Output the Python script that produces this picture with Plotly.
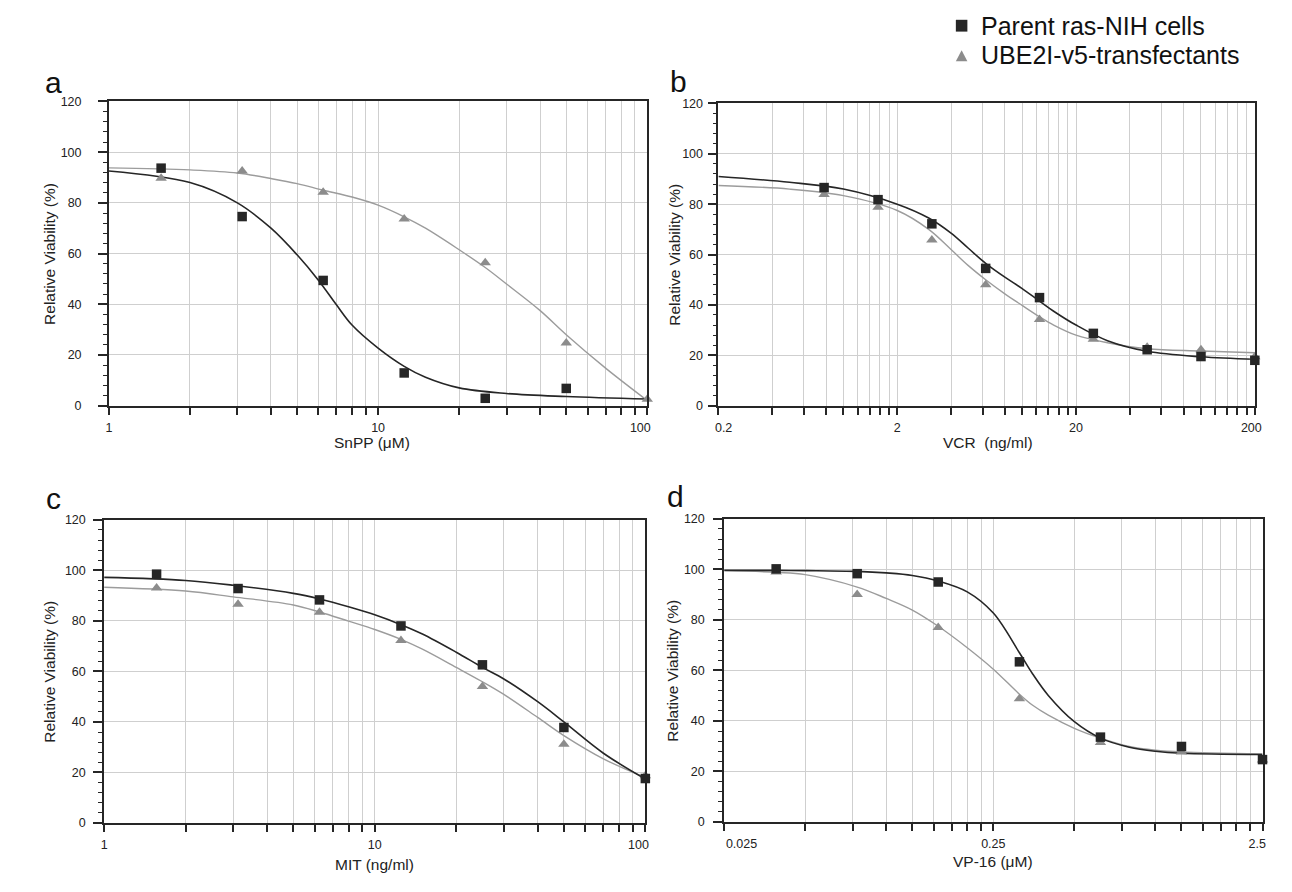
import math
import plotly.graph_objects as go

W, H = 1292, 892

# ---------------- data ----------------
# Panel a: SnPP (uM)
a_x = [1.5625, 3.125, 6.25, 12.5, 25, 50]
a_parent = [93.7, 74.6, 49.4, 12.9, 2.9, 6.8]
a_ube_x = [1.5625, 3.125, 6.25, 12.5, 25, 50, 100]
a_ube = [89.7, 92.6, 84.2, 73.6, 56.4, 24.7, 2.5]
a_fit_x_parent = [1, 2, 3, 4, 5, 6, 7, 8, 10, 12.5, 15, 20, 30, 50, 100]
a_fit_parent = [92.6, 88.0, 80.0, 70.0, 59.5, 49.5, 39.8, 31.8, 22.7, 15.5, 11.2, 7.0, 4.8, 3.6, 2.6]
a_fit_x_ube = [1, 2, 3, 4, 5, 6.25, 8, 10, 12.5, 15, 20, 25, 30, 40, 50, 70, 100]
a_fit_ube = [93.8, 93.0, 91.8, 89.6, 87.6, 85.0, 82.3, 79.1, 74.5, 70.0, 61.5, 54.5, 48.0, 37.5, 28.0, 14.8, 2.0]

# Panel b: VCR (ng/ml)
b_x = [0.78, 1.5625, 3.125, 6.25, 12.5, 25, 50, 100, 200]
b_parent = [86.6, 81.8, 72.2, 54.5, 42.9, 28.7, 22.2, 19.5, 18.0]
b_ube = [83.8, 78.8, 65.8, 48.0, 34.2, 26.4, 23.2, 22.2, 19.4]
b_fit_x = [0.2, 0.5, 1, 2, 3, 4, 5, 6.25, 8, 10, 12.5, 15, 20, 30, 50, 100, 200]
b_fit_parent = [91.0, 88.7, 86.0, 80.0, 74.5, 68.5, 62.5, 56.5, 51.0, 46.5, 41.5, 37.5, 32.0, 25.8, 21.6, 19.4, 18.4]
b_fit_ube = [87.4, 86.0, 83.4, 77.5, 70.0, 62.0, 55.6, 50.0, 44.4, 39.8, 35.3, 32.0, 28.0, 25.0, 22.6, 21.7, 21.0]

# Panel c: MIT (ng/ml)
c_x = [1.5625, 3.125, 6.25, 12.5, 25, 50, 100]
c_parent = [98.5, 92.8, 88.3, 78.0, 62.6, 37.8, 17.6]
c_ube = [93.0, 86.6, 83.4, 72.2, 54.0, 31.2, 18.7]
c_fit_x = [1, 2, 3, 5, 6.25, 8, 10, 12.5, 15, 20, 25, 30, 40, 50, 70, 100]
c_fit_parent = [97.2, 96.0, 94.1, 90.9, 88.7, 85.6, 82.4, 78.5, 74.8, 67.6, 61.6, 57.0, 48.0, 40.0, 27.6, 17.4]
c_fit_ube = [93.3, 91.8, 89.5, 86.3, 83.5, 79.9, 76.6, 72.7, 68.8, 61.6, 55.9, 50.9, 41.8, 34.6, 25.4, 18.0]

# Panel d: VP-16 (uM)
d_x = [0.039, 0.078, 0.156, 0.3125, 0.625, 1.25, 2.5]
d_parent = [100.2, 98.3, 95.0, 63.4, 33.6, 29.9, 24.7]
d_ube = [99.0, 90.1, 77.0, 48.8, 31.5, 27.7, 24.5]
d_fit_x = [0.025, 0.039, 0.05, 0.078, 0.1, 0.125, 0.156, 0.2, 0.25, 0.3125, 0.35, 0.4, 0.5, 0.625, 0.8, 1.0, 1.25, 2.5]
d_fit_parent = [99.6, 99.6, 99.5, 99.2, 98.6, 97.6, 95.4, 91.1, 82.7, 67.0, 58.6, 50.1, 39.7, 33.2, 29.6, 28.0, 27.2, 26.7]
d_fit_ube = [99.6, 98.8, 97.9, 93.0, 88.5, 83.9, 77.5, 69.0, 60.5, 50.6, 46.2, 42.3, 37.1, 33.2, 29.9, 28.4, 27.7, 26.9]

# tick labels (major), with the edge labels nudged inside the axis span like the reference
ac_major = [1, 10, 100]
ac_labels = ["1", "10", "100\u00a0\u00a0\u00a0\u00a0"]
b_major = [0.2, 2, 20, 200]
b_labels = ["\u00a0\u00a0\u00a00.2", "2", "20", "200\u00a0\u00a0"]
d_major = [0.025, 0.25, 2.5]
d_labels = ["\u00a0" * 10 + "0.025", "0.25", "2.5\u00a0\u00a0\u00a0"]
y_ticks = [0, 20, 40, 60, 80, 100, 120]

x_titles = ["SnPP (\u03bcM)", "VCR\u00a0 (ng/ml)", "MIT (ng/ml)", "VP-16 (\u03bcM)"]
y_title = "Relative Viability (%)"
panel_letters = ["a", "b", "c", "d"]
legend_names = ["Parent ras-NIH cells", "UBE2I-v5-transfectants"]

# ---------------- layout geometry (pixels) ----------------
boxes = {  # x0, x1, y0(top), y1(bottom)
    1: (79, 639, 96, 405),
    2: (713, 1271, 98, 405),
    3: (74, 637, 521, 829),
    4: (719, 1279, 520, 828),
}
ylab_standoff = {1: 14, 2: 2, 3: 5, 4: 6}

DARK = "#262626"
GRAY = "#8c8c8c"
LGRAY = "#9c9c9c"
GRID = "#cfcfcf"
FONT = "Liberation Sans, Arial, sans-serif"


def px_x(p):
    return p / W


def px_y(p):
    return 1 - p / H


def log_ticks(majors, labels):
    vals, texts = [], []
    for i, m in enumerate(majors):
        vals.append(m)
        texts.append(labels[i])
        if i < len(majors) - 1:
            for k in range(2, 10):
                vals.append(m * k)
                texts.append("")
    return vals, texts


fig = go.Figure()

panels = [
    (1, a_fit_x_parent, a_fit_parent, a_fit_x_ube, a_fit_ube, a_x, a_parent, a_ube_x, a_ube, ac_major, ac_labels),
    (2, b_fit_x, b_fit_parent, b_fit_x, b_fit_ube, b_x, b_parent, b_x, b_ube, b_major, b_labels),
    (3, c_fit_x, c_fit_parent, c_fit_x, c_fit_ube, c_x, c_parent, c_x, c_ube, ac_major, ac_labels),
    (4, d_fit_x, d_fit_parent, d_fit_x, d_fit_ube, d_x, d_parent, d_x, d_ube, d_major, d_labels),
]

for (i, fxp, fyp, fxu, fyu, px, py, ux, uy, majors, labels) in panels:
    xa = "x" if i == 1 else f"x{i}"
    ya = "y" if i == 1 else f"y{i}"
    fig.add_trace(go.Scatter(x=fxu, y=fyu, mode="lines", xaxis=xa, yaxis=ya,
                             line=dict(color=LGRAY, width=1.4, shape="spline", smoothing=1.0),
                             showlegend=False, hoverinfo="skip"))
    fig.add_trace(go.Scatter(x=fxp, y=fyp, mode="lines", xaxis=xa, yaxis=ya,
                             line=dict(color=DARK, width=1.6, shape="spline", smoothing=1.0),
                             showlegend=False, hoverinfo="skip"))
    fig.add_trace(go.Scatter(x=ux, y=uy, mode="markers", xaxis=xa, yaxis=ya,
                             marker=dict(symbol="triangle-up", size=10, color=GRAY),
                             cliponaxis=False, showlegend=False, name=legend_names[1]))
    fig.add_trace(go.Scatter(x=px, y=py, mode="markers", xaxis=xa, yaxis=ya,
                             marker=dict(symbol="square", size=9.5, color=DARK),
                             cliponaxis=False, showlegend=False, name=legend_names[0]))

    x0, x1, y0, y1 = boxes[i]
    tv, tt = log_ticks(majors, labels)
    xkey = "xaxis" if i == 1 else f"xaxis{i}"
    ykey = "yaxis" if i == 1 else f"yaxis{i}"
    fig.update_layout(**{
        xkey: dict(
            type="log", domain=[px_x(x0), px_x(x1)],
            range=[math.log10(majors[0]), math.log10(majors[-1])],
            tickvals=tv, ticktext=tt, ticks="outside", ticklen=7, tickwidth=1.5,
            tickcolor=DARK, showgrid=True, gridcolor=GRID, gridwidth=1,
            showline=True, linecolor=DARK, linewidth=1.8, mirror=True,
            zeroline=False, anchor=ya, ticklabelstandoff=2,
            tickfont=dict(family=FONT, size=12.5, color="#222"),
        ),
        ykey: dict(
            domain=[px_y(y1), px_y(y0)], range=[0, 120],
            tickvals=y_ticks, ticks="outside", ticklen=9, tickwidth=1.5,
            tickcolor=DARK, showgrid=True, gridcolor=GRID, gridwidth=1,
            showline=True, linecolor=DARK, linewidth=1.8, mirror=True,
            zeroline=False, anchor=xa, ticklabelstandoff=ylab_standoff[i],
            minor=dict(dtick=4, ticks="outside", ticklen=4, tickwidth=1.2,
                       tickcolor=DARK, showgrid=False),
            tickfont=dict(family=FONT, size=12.5, color="#222"),
        ),
    })

annotations = []
shapes = []

# panel letters
letter_pos = {1: (21, 77), 2: (671, 76), 3: (21, 499), 4: (668, 497)}
for i, L in zip(range(1, 5), panel_letters):
    x, y = letter_pos[i]
    annotations.append(dict(text=L, x=px_x(x), y=px_y(y), xref="paper", yref="paper",
                            showarrow=False, xanchor="center", yanchor="middle",
                            font=dict(family=FONT, size=30, color="#111")))
# x titles
xt_pos = {1: (353, 442), 2: (993, 442), 3: (355, 871), 4: (999, 868)}
for i in range(1, 5):
    x, y = xt_pos[i]
    annotations.append(dict(text=x_titles[i - 1], x=px_x(x), y=px_y(y), xref="paper", yref="paper",
                            showarrow=False, xanchor="center", yanchor="middle",
                            font=dict(family=FONT, size=15.5, color="#222")))
# y titles
yt_x = {1: 17, 2: 667, 3: 17, 4: 665}
for i in range(1, 5):
    x0, x1, y0, y1 = boxes[i]
    annotations.append(dict(text=y_title, x=px_x(yt_x[i]), y=px_y((y0 + y1) / 2),
                            xref="paper", yref="paper", showarrow=False, textangle=-90,
                            xanchor="center", yanchor="middle",
                            font=dict(family=FONT, size=15.5, color="#222")))

# legend (symbols as shapes, labels as text)
leg_rows = [19, 49]
for name, yc in zip(legend_names, leg_rows):
    annotations.append(dict(text=name, x=px_x(984), y=px_y(yc), xref="paper", yref="paper",
                            showarrow=False, xanchor="left", yanchor="middle",
                            font=dict(family=FONT, size=25, color="#111")))
shapes.append(dict(type="rect", xref="paper", yref="paper",
                   x0=px_x(960), x1=px_x(972), y0=px_y(25), y1=px_y(13),
                   fillcolor=DARK, line=dict(width=0)))
tri = "M {:.5f},{:.5f} L {:.5f},{:.5f} L {:.5f},{:.5f} Z".format(
    px_x(960), px_y(55), px_x(972), px_y(55), px_x(966), px_y(44))
shapes.append(dict(type="path", xref="paper", yref="paper", path=tri,
                   fillcolor=GRAY, line=dict(width=0)))

fig.update_layout(
    width=W, height=H, margin=dict(l=0, r=0, t=0, b=0),
    paper_bgcolor="white", plot_bgcolor="white",
    annotations=annotations, shapes=shapes,
    showlegend=False, hovermode=False,
    font=dict(family=FONT),
)

fig.write_html("out.html", config={"displayModeBar": False},
               post_script="document.body.style.margin='0px';")
